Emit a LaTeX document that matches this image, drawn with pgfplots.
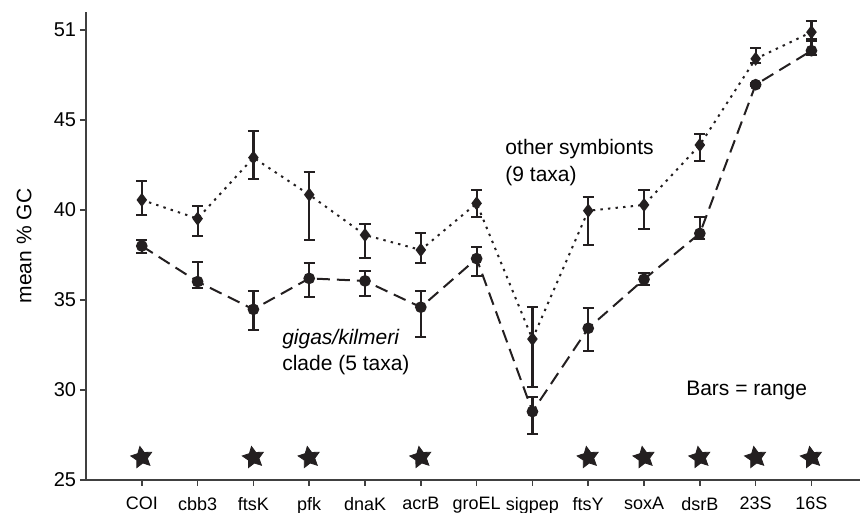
\documentclass[border=0pt]{standalone}
\usepackage{pgfplots}
\pgfplotsset{compat=1.18}
\usepackage{pgfplotstable}
\usepackage{fontspec}
\setmainfont{Liberation Sans}
\usetikzlibrary{calc}
\definecolor{ink}{HTML}{231F20}

\pgfdeclareplotmark{fstar}{%
 \pgfpathmoveto{\pgfpointpolar{100}{\pgfplotmarksize}}%
 \pgfpathlineto{\pgfpointpolar{136}{0.5\pgfplotmarksize}}%
 \pgfpathlineto{\pgfpointpolar{172}{\pgfplotmarksize}}%
 \pgfpathlineto{\pgfpointpolar{208}{0.5\pgfplotmarksize}}%
 \pgfpathlineto{\pgfpointpolar{244}{\pgfplotmarksize}}%
 \pgfpathlineto{\pgfpointpolar{280}{0.5\pgfplotmarksize}}%
 \pgfpathlineto{\pgfpointpolar{316}{\pgfplotmarksize}}%
 \pgfpathlineto{\pgfpointpolar{352}{0.5\pgfplotmarksize}}%
 \pgfpathlineto{\pgfpointpolar{28}{\pgfplotmarksize}}%
 \pgfpathlineto{\pgfpointpolar{64}{0.5\pgfplotmarksize}}%
 \pgfpathclose
 \pgfusepathqfillstroke}

\pgfplotstableread{
x y ep em
0 40.56 1.07 0.84
1 39.52 0.70 0.96
2 42.91 1.50 1.17
3 40.85 1.26 2.52
4 38.61 0.61 1.26
5 37.78 0.96 0.72
6 40.37 0.73 0.77
7 32.83 1.80 2.65
8 39.96 0.78 1.92
9 40.28 0.83 1.32
10 43.61 0.59 0.89
11 48.40 0.58 0.25
12 49.88 0.60 0.38
}\other

\pgfplotstableread{
x y ep em
0 38.00 0.33 0.37
1 36.02 1.07 0.37
2 34.48 1.04 1.15
3 36.20 0.84 1.05
4 36.06 0.57 0.82
5 34.60 0.92 1.64
6 37.30 0.66 0.95
7 28.80 0.79 1.25
8 33.43 1.11 1.25
9 36.15 0.37 0.32
10 38.70 0.93 0.33
11 46.96 0.09 0.08
12 48.85 0.57 0.25
}\gigas

\begin{document}
\fontsize{9}{10.5}\selectfont
\begin{tikzpicture}
\begin{axis}[
 scale only axis, width=387pt, height=234pt,
 xmin=-1, xmax=12.87, ymin=25, ymax=51,
 axis x line=bottom, axis y line=left,
 axis line style={-, black!75, line width=0.8pt},
 xtick={0,...,12},
 xticklabels={COI,cbb3,ftsK,pfk,dnaK,acrB,groEL,sigpep,ftsY,soxA,dsrB,23S,16S},
 ytick={25,30,35,40,45,50}, yticklabels={25,30,35,40,45,51},
 /pgf/number format/assume math mode=true,
 tick align=outside, major tick length=3pt,
 tick style={black!75, line width=0.8pt},
 x tick label style={yshift=-2.3pt, font=\fontsize{9}{10.5}\selectfont},
 y tick label style={xshift=1.2pt, font=\fontsize{10}{12}\selectfont},
 ylabel={mean \% GC},
 ylabel style={at={(axis description cs:-0.080,0.5)}, anchor=center, font=\fontsize{10.5}{12}\selectfont},
 clip=false,
]
\addplot[ink, line width=1pt, dash pattern=on 1.2pt off 2.6pt,
  mark=diamond*, mark size=2.7pt, mark options={solid, fill=ink},
  error bars/.cd, y dir=both, y explicit,
  error bar style={solid, line width=1.1pt, ink},
  error mark options={rotate=90, mark size=2.8pt, line width=1.1pt, ink}]
  table[x=x, y=y, y error plus=ep, y error minus=em]{\other};
\addplot[ink, line width=1pt, dash pattern=on 6.5pt off 3.5pt,
  mark=*, mark size=2.4pt, mark options={solid, fill=ink},
  error bars/.cd, y dir=both, y explicit,
  error bar style={solid, line width=1.1pt, ink},
  error mark options={rotate=90, mark size=2.8pt, line width=1.1pt, ink}]
  table[x=x, y=y, y error plus=ep, y error minus=em]{\gigas};
\addplot[only marks, ink, mark=fstar, mark size=5.6pt, mark options={fill=ink}]
  coordinates {(0,26.25) (2,26.25) (3,26.25) (5,26.25) (8,26.25) (9,26.25) (10,26.25) (11,26.25) (12,26.25)};
\begin{scope}[font=\fontsize{10.5}{12.5}\selectfont]
\node[anchor=base west, inner sep=0pt] at (axis cs:6.51,43.06) {other symbionts};
\node[anchor=base west, inner sep=0pt] at (axis cs:6.51,41.6) {(9 taxa)};
\node[anchor=base west, inner sep=0pt] at (axis cs:2.51,32.5) {\itshape gigas/kilmeri};
\node[anchor=base west, inner sep=0pt] at (axis cs:2.51,31.1) {clade (5 taxa)};
\node[anchor=base west, inner sep=0pt] at (axis cs:9.75,29.72) {Bars = range};
\end{scope}
\end{axis}
\pgfresetboundingbox
\path[use as bounding box] ($(current axis.south west)+(-43pt,-16.5pt)$) rectangle ($(current axis.north east)+(1pt,6pt)$);
\end{tikzpicture}
\end{document}
